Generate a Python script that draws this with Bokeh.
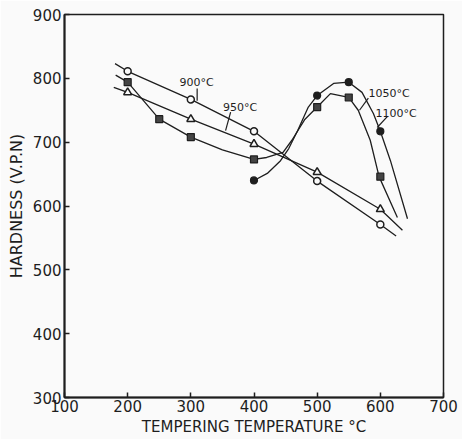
from bokeh.plotting import figure
from bokeh.models import Range1d, Label, FixedTicker
from bokeh.embed import file_html
from bokeh.resources import INLINE

# ---- data ----
x_ticks = [100, 200, 300, 400, 500, 600, 700]
y_ticks = [300, 400, 500, 600, 700, 800, 900]

t900 = [200, 300, 400, 500, 600]
h900 = [811, 767, 717, 639, 571]
t950 = [200, 300, 400, 500, 600]
h950 = [778, 736, 697, 653, 595]
t1050 = [200, 250, 300, 400, 500, 550, 600]
h1050 = [794, 736, 708, 673, 755, 770, 646]
t1100 = [400, 500, 550, 600]
h1100 = [640, 773, 794, 717]

# hand-drawn curve paths
curve900_t = [180, 200, 300, 400, 500, 600, 625]
curve900_h = [823, 811, 767, 717, 639, 571, 553]
curve950_t = [178, 200, 300, 400, 500, 600, 635]
curve950_h = [786, 778, 736, 697, 653, 595, 562]
curve1050_t = [181, 200, 250, 300, 350, 400, 420, 446, 460, 480, 500, 521, 550, 565, 584, 598, 627]
curve1050_h = [805, 794, 736, 708, 688, 673, 676, 684, 703, 735, 755, 776, 770, 750, 703, 646, 582]
curve1100_t = [400, 421, 442, 455, 469, 486, 500, 526, 550, 571, 589, 600, 616, 643]
curve1100_h = [640, 651, 671, 690, 718, 755, 773, 792, 794, 778, 745, 717, 671, 580]

label_text = ["900°C", "950°C", "1050°C", "1100°C"]

FONT = "DejaVu Sans"
INK = "#1e1e1e"
BG = "#fafafa"

p = figure(width=462, height=439, output_backend="svg", toolbar_location=None,
           x_range=Range1d(100, 700), y_range=Range1d(300, 900),
           min_border_left=64, min_border_right=19, min_border_top=14, min_border_bottom=42)
p.background_fill_color = BG
p.border_fill_color = BG
p.outline_line_color = INK
p.outline_line_width = 1.5
p.xgrid.visible = False
p.ygrid.visible = False

for ax in (p.xaxis[0], p.yaxis[0]):
    ax.axis_line_color = INK
    ax.axis_line_width = 2
    ax.major_tick_in = 5
    ax.major_tick_out = 0
    ax.minor_tick_line_color = None
    ax.major_tick_line_color = INK
    ax.major_tick_line_width = 1.5
    ax.major_label_text_font = FONT
    ax.major_label_text_font_size = "15px"
    ax.major_label_text_color = INK
    ax.axis_label_text_font = FONT
    ax.axis_label_text_font_style = "normal"
    ax.axis_label_text_color = INK

p.xaxis.ticker = FixedTicker(ticks=x_ticks)
p.yaxis.ticker = FixedTicker(ticks=y_ticks)
p.xaxis.axis_label = "TEMPERING TEMPERATURE °C"
p.yaxis.axis_label = "HARDNESS (V.P.N)"
p.xaxis.axis_label_text_font_size = "15px"
p.yaxis.axis_label_text_font_size = "16px"
p.xaxis.major_label_standoff = 2
p.yaxis.major_label_standoff = 3
p.xaxis.axis_label_standoff = 3
p.yaxis.axis_label_standoff = 4

lw = 1.3
p.line(curve900_t, curve900_h, line_color=INK, line_width=lw)
p.line(curve950_t, curve950_h, line_color=INK, line_width=lw)
p.line(curve1050_t, curve1050_h, line_color=INK, line_width=lw)
p.line(curve1100_t, curve1100_h, line_color=INK, line_width=lw)

p.scatter(t900, h900, marker="circle", size=7, fill_color=BG, line_color=INK, line_width=1.5)
p.scatter(t950, h950, marker="triangle", size=8, fill_color=BG, line_color=INK, line_width=1.5)
p.scatter(t1050, h1050, marker="square", size=7, fill_color="#444444", line_color=INK, line_width=1.2)
p.scatter(t1100, h1100, marker="circle", size=7, fill_color=INK, line_color=INK, line_width=1.2)

# labels with leader lines
label_pos = [(309, 793), (378, 755), (614, 776), (625, 745)]
for txt, (lx, ly) in zip(label_text, label_pos):
    p.add_layout(Label(x=lx, y=ly, text=txt, text_font=FONT, text_font_size="11px",
                       text_color=INK, text_align="center", text_baseline="middle"))
p.segment([310, 363, 581, 611], [784, 747, 769, 740],
          [310, 355, 567, 595], [765, 718, 750, 723], line_color=INK, line_width=1.2)

open("out.html", "w").write(file_html(p, INLINE))
